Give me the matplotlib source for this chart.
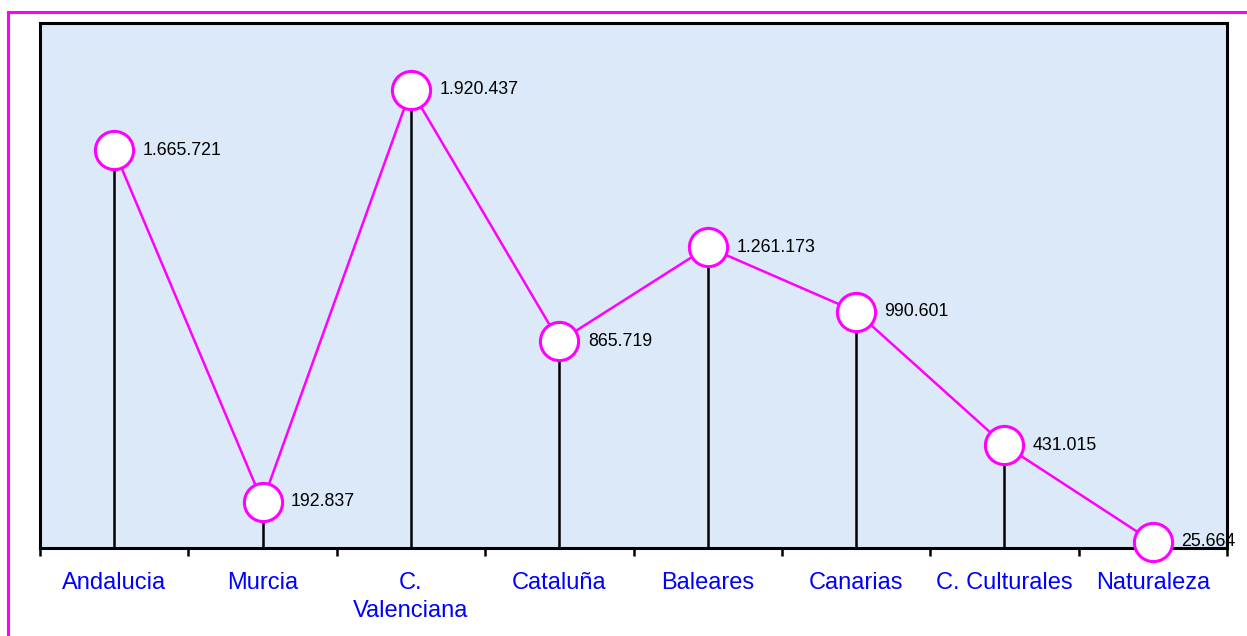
import numpy as np
import matplotlib.pyplot as plt
from matplotlib.patches import Rectangle

categories = ['Andalucia', 'Murcia', 'C.\nValenciana', 'Cataluña', 'Baleares',
              'Canarias', 'C. Culturales', 'Naturaleza']
values = [1665721, 192837, 1920437, 865719, 1261173, 990601, 431015, 25664]
value_labels = ['1.665.721', '192.837', '1.920.437', '865.719', '1.261.173',
                '990.601', '431.015', '25.664']

plt.rcParams['font.family'] = ['Liberation Sans', 'DejaVu Sans']

W, H = 1247, 636
fig = plt.figure(figsize=(W / 100, H / 100), dpi=100)
fig.patch.set_facecolor('white')

# magenta outer frame (runs off right/bottom edge)
fig.add_artist(Rectangle((8 / W, -0.1), 1.2, 1 - 12 / H + 0.1, transform=fig.transFigure,
                         fill=False, edgecolor='#ff00ff', linewidth=2.2))

ax = fig.add_axes([40 / W, 1 - 548 / H, (1227 - 40) / W, (548 - 23) / H])
ax.set_facecolor('#dbe9f9')

x = np.arange(len(categories))
ax.vlines(x, 0, values, colors='black', linewidth=1.8, zorder=2)
ax.plot(x, values, color='#ff00ff', linewidth=1.8, marker='o', markersize=27.5,
        markerfacecolor='white', markeredgecolor='#ff00ff', markeredgewidth=2.2,
        zorder=3, clip_on=False)

for xi, v, lab in zip(x, values, value_labels):
    ax.annotate(lab, (xi, v), xytext=(20.5, 0), textcoords='offset points',
                va='center', ha='left', fontsize=12.8, color='black', zorder=4,
                annotation_clip=False)

ax.set_xlim(-0.5, len(categories) - 0.5)
ax.set_ylim(0, 2200000)

ax.set_xticks(np.arange(-0.5, len(categories), 1.0))
ax.set_xticklabels([])
ax.set_xticks(x, minor=True)
ax.set_xticklabels(categories, minor=True, color='#0000ff', fontsize=17,
                   va='top', linespacing=1.4)
ax.tick_params(axis='x', which='major', direction='out', length=6, width=1.8, color='black')
ax.tick_params(axis='x', which='minor', length=0, pad=17)
ax.set_yticks([])

for s in ax.spines.values():
    s.set_linewidth(2.2)
    s.set_color('black')

fig.savefig('out.png', dpi=100)
